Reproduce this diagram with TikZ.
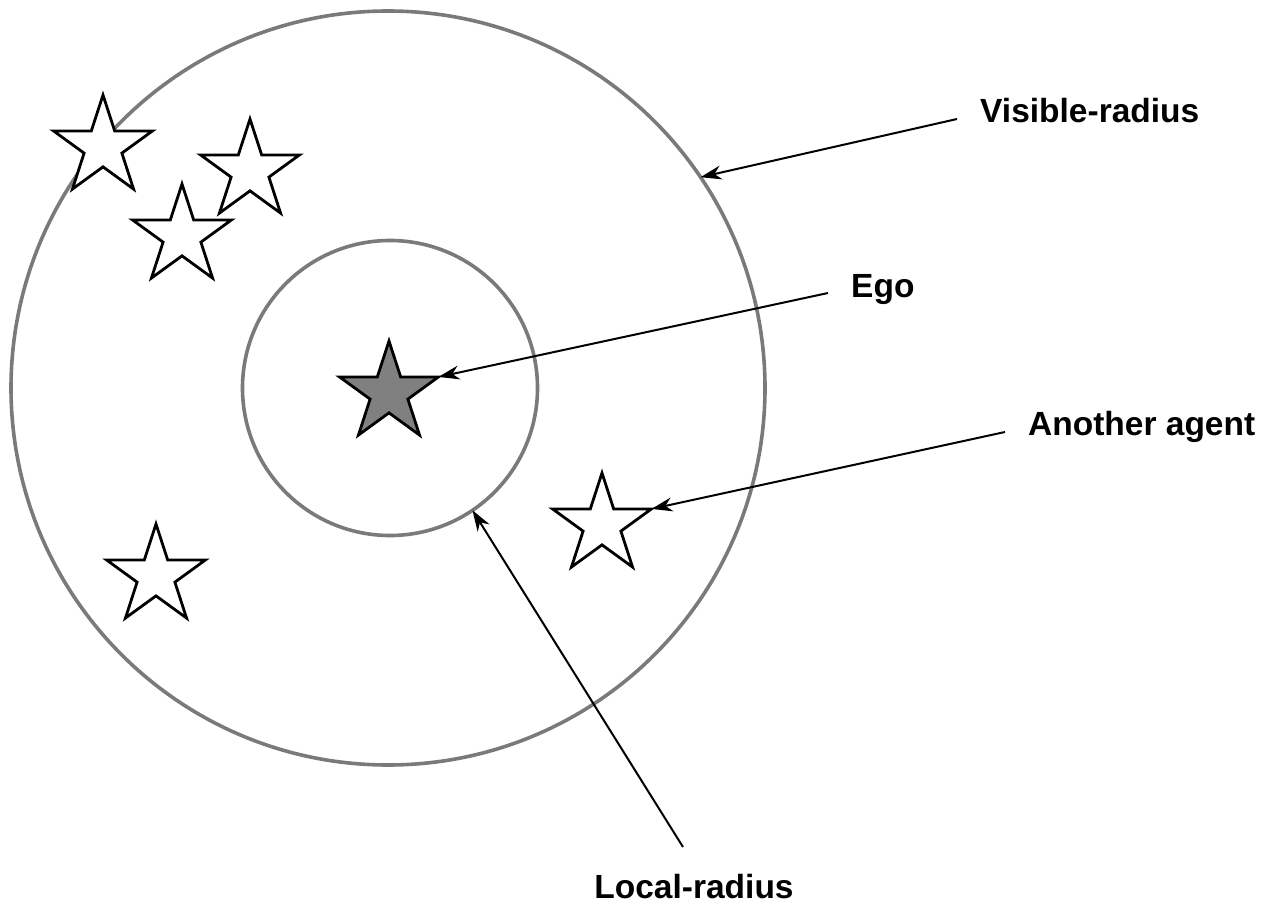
\documentclass[tikz,border=0pt]{standalone}
\usepackage{fontspec}
\setmainfont{Liberation Sans}
\usetikzlibrary{shapes.geometric,arrows.meta,calc}
\definecolor{ringgray}{RGB}{122,122,122}
\definecolor{egogray}{RGB}{128,128,128}
\begin{document}
\begin{tikzpicture}[x=1pt,y=-1pt,
  ring/.style={circle,draw=ringgray,line width=3.6pt,inner sep=0pt,outer sep=0pt},
  agent/.style={star,star points=5,star point ratio=2.618,minimum size=104pt,
     inner sep=0pt,outer sep=0pt,draw=black,line width=2.8pt,fill=white},
  lbl/.style={anchor=base west,inner xsep=23pt,inner ysep=0pt,
     font=\fontsize{33.5}{40}\selectfont\bfseries},
  arr/.style={line width=2pt,-{Stealth[length=21pt,width=14pt]}}]
\useasboundingbox (0,0) rectangle (1275,907);
% rings
\node[ring,minimum size=754pt] (vis) at (388,388) {};
\node[ring,minimum size=295pt] (loc) at (390,388) {};
% agents
\node[agent] (a1) at (103,147) {};
\node[agent] (a2) at (250,171) {};
\node[agent] (a3) at (182,236) {};
\node[agent] (a4) at (156,576) {};
\node[agent] (other) at (602,525) {};
\node[agent,fill=egogray] (ego) at (389,393) {};
% labels
\node[lbl] (vislbl) at (957,122) {Visible-radius};
\node[lbl] (egolbl) at (828,297) {Ego};
\node[lbl] (othlbl) at (1005,435) {Another agent};
\node[anchor=base,inner sep=0pt,font=\fontsize{33.5}{40}\selectfont\bfseries] (loclbl) at (694,898) {Local-radius};
\coordinate (locfrom) at (683,847);
% arrows
\draw[arr] ([yshift=3pt]vislbl.base west) -- (vis.34.3);
\draw[arr] ([yshift=4pt]egolbl.base west) -- (ego.outer point 5);
\draw[arr] ([yshift=3pt]othlbl.base west) -- (other.outer point 5);
\draw[arr] (locfrom) -- (loc.-56);
\end{tikzpicture}
\end{document}
